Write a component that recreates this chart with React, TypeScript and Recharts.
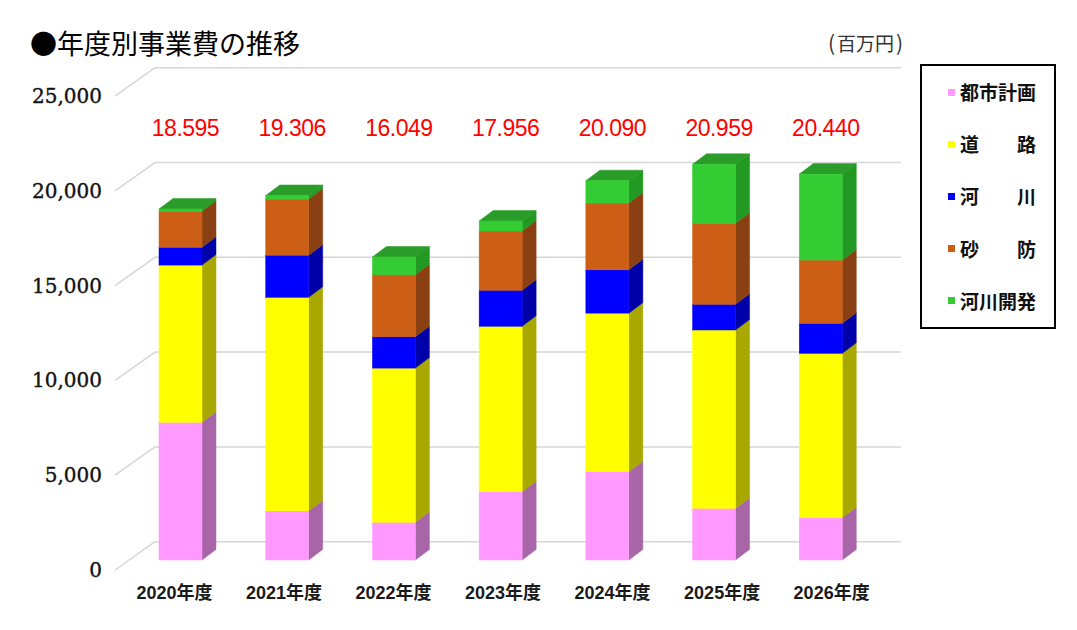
import { BarChart, Bar, XAxis, YAxis, CartesianGrid, LabelList } from 'recharts';

// 年度別事業費（百万円）
const YEARS = ['2020年度', '2021年度', '2022年度', '2023年度', '2024年度', '2025年度', '2026年度'];
const CITY = [7295, 2600, 1999, 3614, 4680, 2738, 2240];
const ROAD = [8325, 11316, 8165, 8767, 8395, 9444, 8706];
const RIVER = [940, 2228, 1660, 1905, 2295, 1361, 1589];
const SABO = [1913, 2971, 3287, 3138, 3535, 4290, 3352];
const DEV = [122, 191, 938, 532, 1185, 3126, 4553];
const TOTALS = [18595, 19306, 16049, 17956, 20090, 20959, 20440];
const Y_TICKS = [0, 5000, 10000, 15000, 20000, 25000];

const SERIES = [
  { key: 'city', name: '都市計画', front: '#FF99FF', side: '#A866A8', top: '#D080D0' },
  { key: 'road', name: '道路', front: '#FFFF00', side: '#A8A800', top: '#D0D000' },
  { key: 'river', name: '河川', front: '#0000FF', side: '#0000A8', top: '#0000D0' },
  { key: 'sabo', name: '砂防', front: '#CC5F15', side: '#8A4012', top: '#A84E14' },
  { key: 'dev', name: '河川開発', front: '#33CC33', side: '#229922', top: '#2A9C2A' },
];

const data = YEARS.map((year, i) => ({
  year,
  city: CITY[i],
  road: ROAD[i],
  river: RIVER[i],
  sabo: SABO[i],
  dev: DEV[i],
  total: TOTALS[i],
}));

// 3D look
const DX = 14;
const DY = 10.5;
const PLOT_BOTTOM = 560;
const FLOOR_BACK = 541.7;
const BACK_SCALE = 1.0042;
const GRID = '#D6D6D6';
const JP = '"Noto Sans CJK JP", "Noto Sans", sans-serif';

const backY = (y: number) => FLOOR_BACK - (PLOT_BOTTOM - y) * BACK_SCALE;
const labelY = (y: number) => 570 - (PLOT_BOTTOM - y) * BACK_SCALE;

const GridLine = (props: any) => {
  const yb = backY(props.y1);
  const yl = labelY(props.y1);
  return (
    <g key={props.key}>
      <line x1={115} y1={yl} x2={155} y2={yb} stroke={GRID} strokeWidth={1.5} />
      <line x1={155} y1={yb} x2={901} y2={yb} stroke={GRID} strokeWidth={1.5} />
    </g>
  );
};

const YTick = ({ y, payload }: any) => (
  <text
    x={102}
    y={labelY(y)}
    textAnchor="end"
    dominantBaseline="central"
    fontFamily="DejaVu Serif"
    fontSize={20}
    fill="#111"
    stroke="#111"
    strokeWidth={0.35}
  >
    {Number(payload.value).toLocaleString('en-US')}
  </text>
);

const XTick = ({ x, payload, index }: any) => {
  const i = payload?.index ?? index ?? 0;
  return (
    <text
      x={x - 5.8 + 2.8 * i}
      y={593}
      textAnchor="middle"
      dominantBaseline="central"
      fontFamily={`"Liberation Sans", ${JP}`}
      fontWeight="bold"
      fontSize={18}
      fill="#1a1a1a"
    >
      {payload.value}
    </text>
  );
};

const TotalLabel = (props: any) => {
  const vb = props.viewBox ?? props;
  const x = vb.x ?? props.x;
  const w = vb.width ?? props.width;
  return (
    <text
      x={x + w / 2 + 5}
      y={136}
      textAnchor="middle"
      fontFamily="Liberation Sans"
      fontSize={23}
      letterSpacing={-0.5}
      fill="#FF0000"
    >
      {Number(props.value).toLocaleString('en-US').replace(',', '.')}
    </text>
  );
};

const make3D = (s: (typeof SERIES)[number], withTop: boolean) => (props: any) => {
  const { x, y, width: w, height: h } = props;
  if (!h || h <= 0) return <g />;
  return (
    <g>
      <polygon
        points={`${x + w},${y} ${x + w + DX},${y - DY} ${x + w + DX},${y + h - DY} ${x + w},${y + h}`}
        fill={s.side}
        stroke={s.side}
        strokeWidth={0.5}
      />
      {withTop && (
        <polygon
          points={`${x},${y} ${x + w},${y} ${x + w + DX},${y - DY} ${x + DX},${y - DY}`}
          fill={s.top}
          stroke={s.top}
          strokeWidth={0.5}
        />
      )}
      <rect x={x} y={y} width={w} height={h} fill={s.front} stroke={s.front} strokeWidth={0.5} />
    </g>
  );
};

const legendName = (name: string) => (name.length === 2 ? `${name[0]}\u3000\u3000${name[1]}` : name);

export default function App() {
  return (
    <div style={{ position: 'absolute', left: 0, top: 0, width: 1077, height: 630, background: '#fff' }}>
      <BarChart
        width={1077}
        height={630}
        data={data}
        margin={{ top: 88, right: 203, bottom: 30, left: 67 }}
        barSize={43}
      >
        <CartesianGrid vertical={false} horizontal={GridLine} />
        <XAxis dataKey="year" height={40} axisLine={false} tickLine={false} interval={0} tick={XTick} />
        <YAxis
          width={60}
          domain={[0, 25000]}
          ticks={Y_TICKS}
          axisLine={false}
          tickLine={false}
          tick={YTick}
        />
        {SERIES.map((s, i) => {
          const last = i === SERIES.length - 1;
          return (
            <Bar
              key={s.key}
              dataKey={s.key}
              name={s.name}
              stackId="a"
              fill={s.front}
              shape={make3D(s, last)}
              isAnimationActive={false}
            >
              {last && <LabelList dataKey="total" content={TotalLabel} />}
            </Bar>
          );
        })}
      </BarChart>

      <svg width={1077} height={70} style={{ position: 'absolute', left: 0, top: 0 }}>
        <text x={30} y={53.5} fontFamily={JP} fontSize={27} fill="#000">
          ●年度別事業費の推移
        </text>
        <g fontFamily={JP} fill="#333">
          <text x={828} y={51} fontSize={21}>(</text>
          <text x={837} y={50.5} fontSize={19}>百万円</text>
          <text x={896} y={51} fontSize={21}>)</text>
        </g>
      </svg>

      <div
        style={{
          position: 'absolute',
          left: 920,
          top: 64,
          width: 136,
          height: 265,
          boxSizing: 'border-box',
          border: '2px solid #000',
          background: '#fff',
          display: 'flex',
          flexDirection: 'column',
        }}
      >
        {SERIES.map((s) => (
          <div
            key={s.key}
            style={{ height: 52.2, display: 'flex', alignItems: 'center', paddingLeft: 26 }}
          >
            <span style={{ width: 7, height: 7, background: s.front, marginRight: 5, flexShrink: 0 }} />
            <span
              style={{
                fontFamily: JP,
                fontWeight: 'bold',
                fontSize: 19,
                lineHeight: '20px',
                color: '#111',
                whiteSpace: 'pre',
              }}
            >
              {legendName(s.name)}
            </span>
          </div>
        ))}
      </div>
    </div>
  );
}
